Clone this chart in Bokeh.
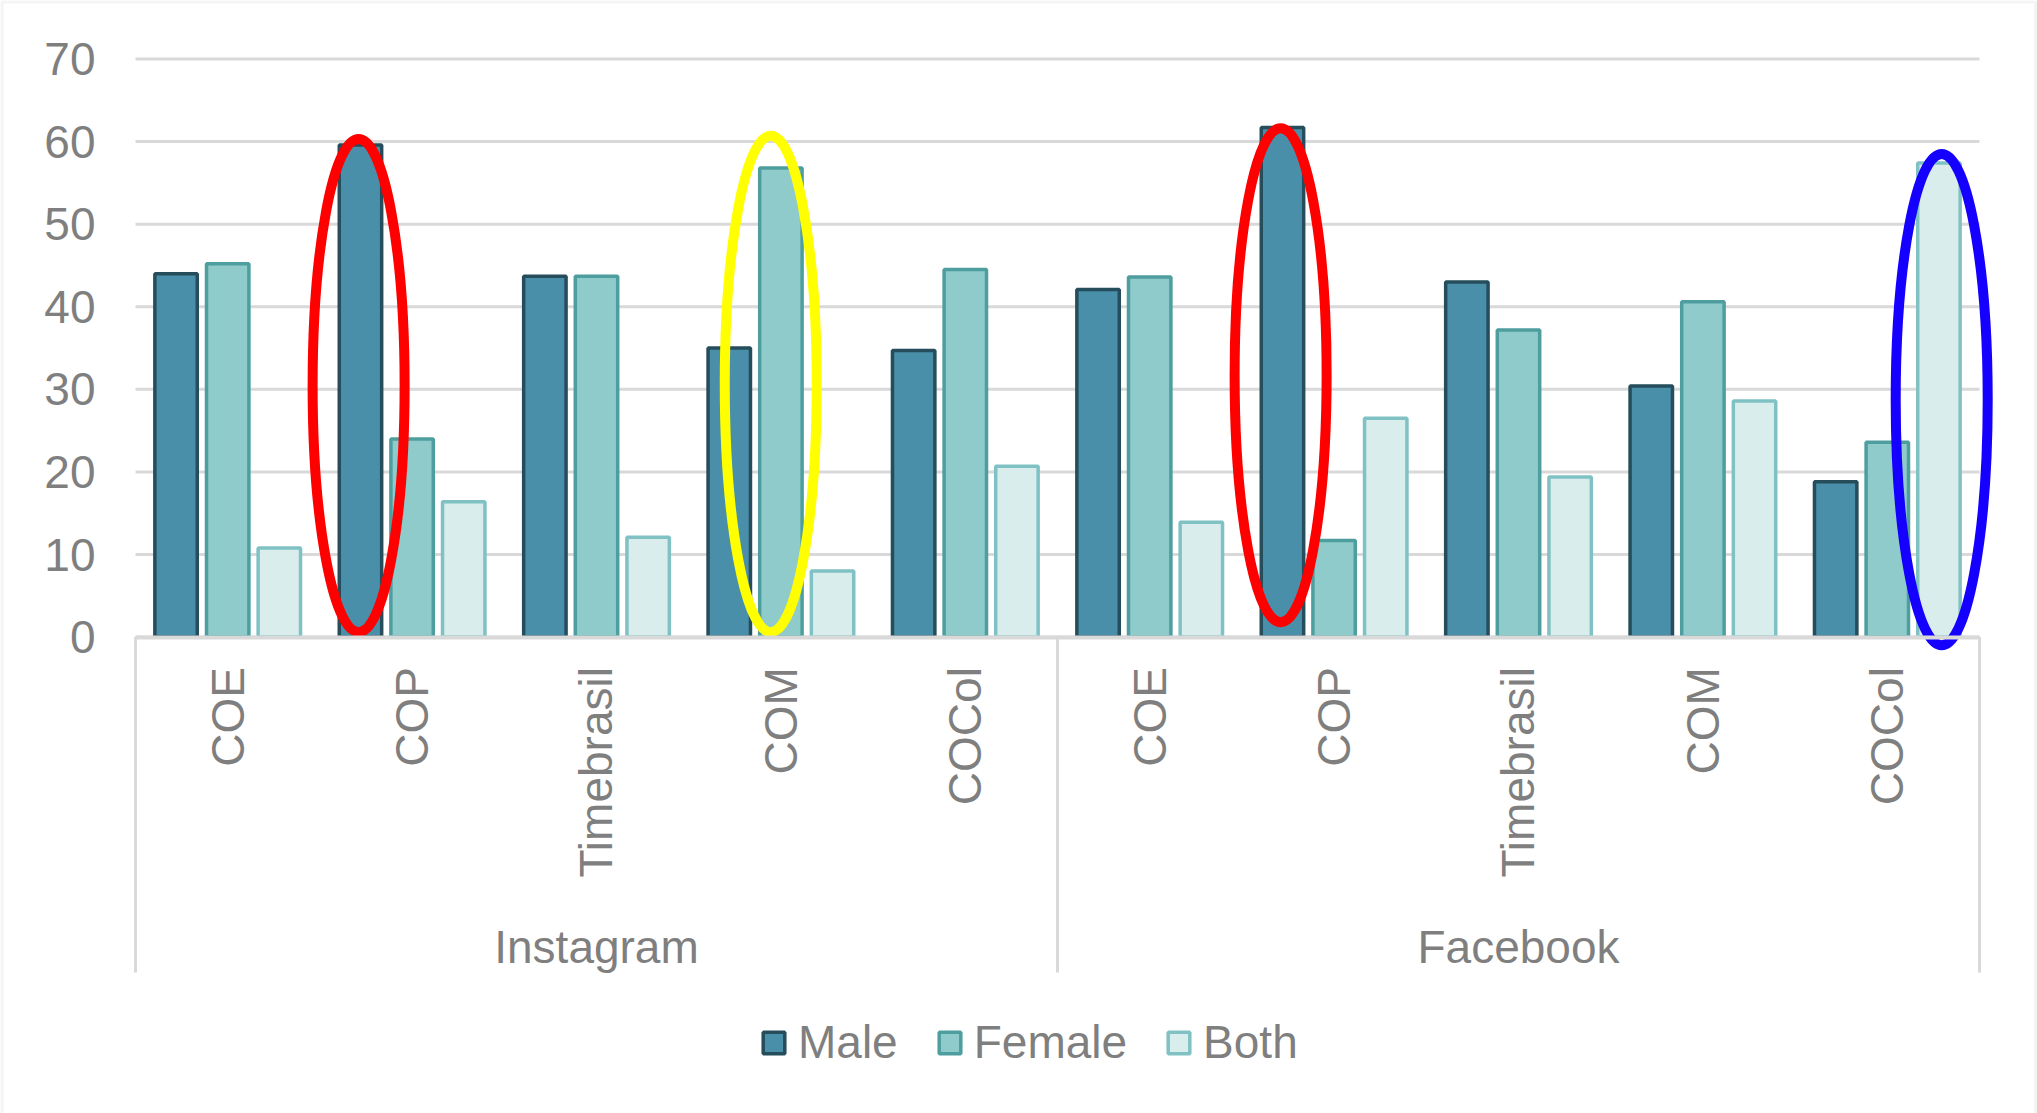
import math

from bokeh.core.properties import value
from bokeh.embed import file_html
from bokeh.models import (BoxAnnotation, ColumnDataSource, FixedTicker, Legend, LegendItem,
                          LinearAxis, Range1d)
from bokeh.plotting import figure
from bokeh.resources import INLINE
from bokeh.transform import dodge

# ---- data -------------------------------------------------------------
platforms = ["Instagram", "Facebook"]
categories = ["COE", "COP", "Timebrasil", "COM", "COCol"]
series = ["Male", "Female", "Both"]

male_instagram = [44.0, 59.6, 43.7, 35.0, 34.7]
female_instagram = [45.2, 24.0, 43.7, 56.8, 44.5]
both_instagram = [10.8, 16.4, 12.1, 8.0, 20.7]

male_facebook = [42.1, 61.7, 43.0, 30.4, 18.8]
female_facebook = [43.6, 11.7, 37.2, 40.6, 23.6]
both_facebook = [13.9, 26.5, 19.4, 28.6, 57.4]

y_ticks = [0, 10, 20, 30, 40, 50, 60, 70]

# bars circled by hand-drawn rings
highlights = [("Instagram", "COP", "Male"),
              ("Instagram", "COM", "Female"),
              ("Facebook", "COP", "Male"),
              ("Facebook", "COCol", "Both")]

# ---- layout / style ---------------------------------------------------
W, H = 2037, 1113
AREA_LEFT, AREA_RIGHT = 135, 1979           # pixel columns of the plotting area
Y0_PX, Y70_PX = 636.6, 58.5                 # pixel rows of 0 and 70
PX_PER_UNIT = (Y0_PX - Y70_PX) / 70.0
Y_END = 70 + Y70_PX / PX_PER_UNIT
Y_START = -(H - Y0_PX) / PX_PER_UNIT

N_CAT = len(categories)
N_SLOTS = len(platforms) * N_CAT
PX_PER_SLOT = (AREA_RIGHT - AREA_LEFT) / N_SLOTS
X_START = -AREA_LEFT / PX_PER_SLOT
X_END = N_SLOTS + (W - AREA_RIGHT) / PX_PER_SLOT

FONT = "Liberation Sans"
FONT_SIZE = "46px"
TEXT_COLOR = "#7f7f7f"
GRID_COLOR = "#d9d9d9"

FILL = {"Male": "#4a8fa9", "Female": "#8ecbca", "Both": "#d9eded"}
EDGE = {"Male": "#264d5b", "Female": "#4f9e9f", "Both": "#80c2c4"}
OFFSET = {"Male": -0.28, "Female": 0.0, "Both": 0.28}
BAR_W = 0.23
BAR_EDGE_W = 3.5

GROUP_LABEL_Y = -37.5      # data units below the baseline
SEPARATOR_BOTTOM = -40.6

RING_COLORS = ["#ff0000", "#ffff00", "#ff0000", "#1500ff"]
RING_SPANS = [(0.6, 60.3), (0.6, 60.7), (1.8, 61.6), (-1.0, 58.5)]
RING_NUDGE = [-0.01, -0.055, -0.01, 0.015]
RING_WIDTH_PX = 92

# ---- sources ----------------------------------------------------------
slot_centers = [g * N_CAT + i + 0.5 for g in range(len(platforms)) for i in range(N_CAT)]
slot_keys = [(pl, c) for pl in platforms for c in categories]
source = ColumnDataSource(data=dict(
    x=slot_centers,
    Male=male_instagram + male_facebook,
    Female=female_instagram + female_facebook,
    Both=both_instagram + both_facebook,
))

p = figure(width=W, height=H, x_range=Range1d(X_START, X_END),
           y_range=Range1d(Y_START, Y_END), output_backend="svg",
           toolbar_location=None, x_axis_location=None, y_axis_location=None,
           min_border=0)
p.outline_line_color = None
p.background_fill_color = "white"
p.border_fill_color = "white"
p.grid.grid_line_color = None

# ---- horizontal gridlines across the plotting area --------------------
p.segment(x0=[0] * len(y_ticks), x1=[N_SLOTS] * len(y_ticks), y0=y_ticks, y1=y_ticks,
          line_color=GRID_COLOR, line_width=3)

# ---- y axis -----------------------------------------------------------
yax = LinearAxis(fixed_location=0, ticker=FixedTicker(ticks=y_ticks))
yax.axis_line_color = None
yax.major_tick_line_color = None
yax.minor_tick_line_color = None
yax.major_label_standoff = 34
yax.major_label_text_font = FONT
yax.major_label_text_font_size = FONT_SIZE
yax.major_label_text_color = TEXT_COLOR
p.add_layout(yax, "left")

# ---- bars -------------------------------------------------------------
renderers = {}
for s in series:
    renderers[s] = p.vbar(x=dodge("x", OFFSET[s]), top=s, width=BAR_W, source=source,
                          fill_color=FILL[s], line_color=EDGE[s], line_width=BAR_EDGE_W)

# ---- category axis at y = 0 -------------------------------------------
xax = LinearAxis(fixed_location=0, ticker=FixedTicker(ticks=slot_centers),
                 bounds=(0, N_SLOTS))
xax.major_label_overrides = {x: c for x, (_, c) in zip(slot_centers, slot_keys)}
xax.major_label_orientation = math.pi / 2
xax.major_label_standoff = 30
xax.major_label_text_font = FONT
xax.major_label_text_font_size = FONT_SIZE
xax.major_label_text_color = TEXT_COLOR
xax.major_tick_line_color = None
xax.minor_tick_line_color = None
xax.major_tick_out = 0
xax.major_tick_in = 0
xax.axis_line_color = GRID_COLOR
xax.axis_line_width = 4
p.add_layout(xax, "below")

# group boxes under the axis
sep_x = [g * N_CAT for g in range(len(platforms) + 1)]
p.segment(x0=sep_x, x1=sep_x, y0=[0] * len(sep_x), y1=[SEPARATOR_BOTTOM] * len(sep_x),
          line_color=GRID_COLOR, line_width=3)

group_x = [g * N_CAT + N_CAT / 2 for g in range(len(platforms))]
p.text(x=group_x, y=[GROUP_LABEL_Y] * len(platforms), text=platforms,
       text_align="center", text_baseline="middle", text_font=value(FONT),
       text_font_size=FONT_SIZE, text_color=TEXT_COLOR)

# ---- rings around highlighted bars ------------------------------------
ring_x = [slot_centers[slot_keys.index((pl, c))] + OFFSET[s] + n
          for (pl, c, s), n in zip(highlights, RING_NUDGE)]
ring_y = [(lo + hi) / 2 for lo, hi in RING_SPANS]
ring_h = [hi - lo for lo, hi in RING_SPANS]
p.ellipse(x=ring_x, y=ring_y, width=RING_WIDTH_PX, height=ring_h,
          width_units="screen", height_units="data",
          fill_color=None, line_color=RING_COLORS, line_width=10)

# ---- legend -----------------------------------------------------------
legend = Legend(items=[LegendItem(label=s, renderers=[renderers[s]]) for s in series],
                orientation="horizontal", location=(760, 44),
                label_text_font=FONT, label_text_font_size=FONT_SIZE,
                label_text_color=TEXT_COLOR, glyph_width=27, glyph_height=27,
                label_standoff=11, spacing=38, padding=0, margin=0,
                border_line_color=None, background_fill_alpha=0)
p.add_layout(legend)

# light frame around the whole chart
p.add_layout(BoxAnnotation(left=1.5, right=W - 2, top=1.5, bottom=H + 10,
                           left_units="canvas", right_units="canvas",
                           top_units="canvas", bottom_units="canvas",
                           fill_alpha=0, line_color="#dcdcdc", line_width=3))

open("out.html", "w").write(file_html(p, INLINE))
